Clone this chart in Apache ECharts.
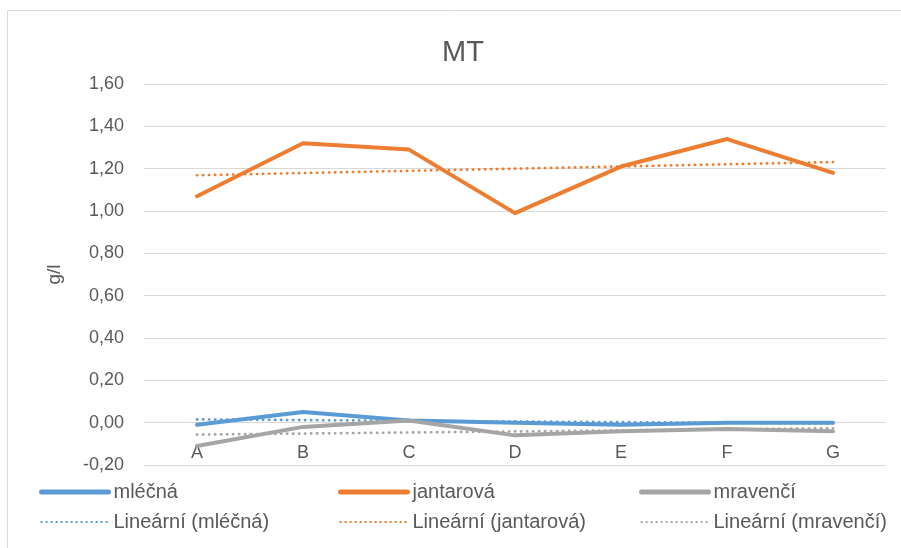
<!DOCTYPE html>
<html>
<head>
<meta charset="utf-8">
<script src="https://cdn.jsdelivr.net/npm/echarts@6/dist/echarts.min.js"></script>
<style>
  html, body { margin: 0; padding: 0; background: #ffffff; }
  #chart { width: 901px; height: 548px; }
</style>
</head>
<body>
<div id="chart"></div>
<script>
// Sample categories and measured concentrations (g/l)
const categories = ['A', 'B', 'C', 'D', 'E', 'F', 'G'];
const mlecna    = [-0.01, 0.05, 0.01, 0.00, -0.01, 0.00, 0.00];
const jantarova = [1.07, 1.32, 1.29, 0.99, 1.21, 1.34, 1.18];
const mravenci  = [-0.11, -0.02, 0.01, -0.06, -0.04, -0.03, -0.04];
const yTicks = { min: -0.2, max: 1.6, step: 0.2 };

// Least-squares linear trend over category index
function linearTrend(values) {
  const n = values.length;
  let sx = 0, sy = 0, sxy = 0, sxx = 0;
  values.forEach((y, i) => { sx += i; sy += y; sxy += i * y; sxx += i * i; });
  const slope = (n * sxy - sx * sy) / (n * sxx - sx * sx);
  const icpt = (sy - slope * sx) / n;
  return values.map((_, i) => +(icpt + slope * i).toFixed(5));
}

const BLUE = '#5b9bd5', ORANGE = '#ed7d31', GRAY = '#a5a5a5';
const TXT = '#595959', GRID = '#d9d9d9';
const FONT = 'Liberation Sans';
const DOTS = [0.3, 5.7];

function mainSeries(name, data, color) {
  return {
    name, type: 'line', data, symbol: 'none',
    lineStyle: { color, width: 4, cap: 'round', join: 'round' },
    itemStyle: { color },
    z: 3
  };
}
function trendSeries(name, data, color) {
  return {
    name, type: 'line', data, symbol: 'none',
    lineStyle: { color, width: 2.7, type: DOTS, cap: 'round' },
    itemStyle: { color },
    z: 2
  };
}

// One legend column: solid series on top, its trend below
function legendCol(left, main, trend) {
  return {
    orient: 'vertical', left, top: 482, padding: 0,
    itemWidth: 67, itemHeight: 14, itemGap: 10,
    itemStyle: { opacity: 0 },
    data: [
      { name: main, lineStyle: { width: 5, cap: 'round' } },
      { name: trend, lineStyle: { width: 2.2, type: [0.3, 4.7], cap: 'round' } }
    ],
    textStyle: { color: TXT, fontSize: 20, fontFamily: FONT },
    selectedMode: false
  };
}

const chart = echarts.init(document.getElementById('chart'), null, { renderer: 'canvas' });
chart.setOption({
  backgroundColor: '#ffffff',
  animation: false,
  graphic: [{
    type: 'rect', silent: true, z: -1,
    shape: { x: 7.5, y: 10.5, width: 900, height: 560 },
    style: { fill: 'none', stroke: GRID, lineWidth: 1 }
  }],
  title: {
    text: 'MT', left: 458, top: 33, textAlign: 'center',
    textStyle: { color: TXT, fontSize: 29, fontWeight: 'normal', fontFamily: FONT }
  },
  legend: [
    legendCol(39, 'mléčná', 'Lineární (mléčná)'),
    legendCol(338, 'jantarová', 'Lineární (jantarová)'),
    legendCol(639, 'mravenčí', 'Lineární (mravenčí)')
  ],
  grid: { left: 144, top: 84, width: 742, height: 381, containLabel: false },
  xAxis: {
    type: 'category', data: categories, boundaryGap: true,
    axisLine: { onZero: false, show: false },
    axisTick: { show: false },
    // category names sit just under the zero line
    axisLabel: { color: TXT, fontSize: 18, fontFamily: FONT, margin: -21 },
    splitLine: { show: false }
  },
  yAxis: {
    type: 'value', min: yTicks.min, max: yTicks.max, interval: yTicks.step,
    name: 'g/l', nameLocation: 'middle', nameRotate: 90, nameGap: 80,
    nameTextStyle: { color: TXT, fontSize: 19, fontFamily: FONT },
    axisLine: { show: false }, axisTick: { show: false },
    axisLabel: {
      color: TXT, fontSize: 18, fontFamily: FONT, margin: 20,
      formatter: v => v.toFixed(2).replace('.', ',')
    },
    splitLine: { lineStyle: { color: GRID, width: 1 } }
  },
  series: [
    mainSeries('mléčná', mlecna, BLUE),
    mainSeries('jantarová', jantarova, ORANGE),
    mainSeries('mravenčí', mravenci, GRAY),
    trendSeries('Lineární (mléčná)', linearTrend(mlecna), BLUE),
    trendSeries('Lineární (jantarová)', linearTrend(jantarova), ORANGE),
    trendSeries('Lineární (mravenčí)', linearTrend(mravenci), GRAY)
  ]
});
</script>
</body>
</html>
